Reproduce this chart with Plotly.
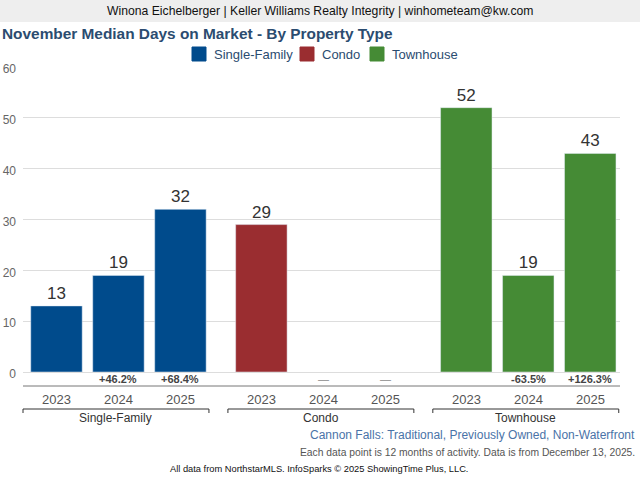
import plotly.graph_objects as go

# ---- data ----
groups = ["Single-Family", "Condo", "Townhouse"]
years = ["2023", "2024", "2025"]
sf_values = [13, 19, 32]
condo_values = [29, None, None]
town_values = [52, 19, 43]
sf_change = ["", "+46.2%", "+68.4%"]
condo_change = ["", "—", "—"]
town_change = ["", "-63.5%", "+126.3%"]

series_values = [sf_values, condo_values, town_values]
series_change = [sf_change, condo_change, town_change]
colors = ["#004b8c", "#9a2d30", "#458b35"]

# ---- layout geometry ----
W, H = 640, 480
ML, MR, MT, MB = 23, 20, 67, 108
PW = W - ML - MR
PH = H - MT - MB
GROUP_STEP = 3.306
BAR_SHIFT = 0.04
X0, X1 = -0.5, 2 * GROUP_STEP + 2.52
FONT = "Liberation Sans, Arial, sans-serif"


def px_to_py(py):
    return (H - MB - py) / PH


def px_to_px(px):
    return (px - ML) / PW


def dx_to_px(x):
    return (x - X0) / (X1 - X0)


fig = go.Figure()
for g, name in enumerate(groups):
    xs = [g * GROUP_STEP + i + BAR_SHIFT for i in range(len(years))]
    vals = series_values[g]
    fig.add_trace(go.Bar(
        x=xs, y=vals, name=name, marker_color=colors[g], width=0.83,
        text=[("" if v is None else str(v)) for v in vals],
        textposition="outside", cliponaxis=False,
        textfont=dict(size=17, color="#333333", family=FONT),
        hoverinfo="skip",
    ))

annotations = []
shapes = []

# header band
shapes.append(dict(type="rect", xref="paper", yref="paper",
                   x0=px_to_px(0), x1=px_to_px(W),
                   y0=px_to_py(22), y1=px_to_py(0),
                   fillcolor="#eeeeee", line_width=0, layer="below"))
annotations.append(dict(xref="paper", yref="paper", x=px_to_px(320), y=px_to_py(11),
                        text="Winona Eichelberger | Keller Williams Realty Integrity | winhometeam@kw.com",
                        showarrow=False, xanchor="center", yanchor="middle",
                        font=dict(size=12.2, color="#111111", family=FONT)))

# manual legend (swatch + label)
legend_x = [192, 300, 370]
for g, name in enumerate(groups):
    x0 = legend_x[g]
    shapes.append(dict(type="rect", xref="paper", yref="paper",
                       x0=px_to_px(x0), x1=px_to_px(x0 + 14),
                       y0=px_to_py(61), y1=px_to_py(47),
                       fillcolor=colors[g], line=dict(color=colors[g], width=1)))
    annotations.append(dict(xref="paper", yref="paper", x=px_to_px(x0 + 20), y=px_to_py(54),
                            text=name, showarrow=False, xanchor="left", yanchor="middle",
                            font=dict(size=13, color="#2b4c70", family=FONT)))

# separator line below change labels
shapes.append(dict(type="line", xref="paper", yref="paper", x0=0, x1=1,
                   y0=px_to_py(386), y1=px_to_py(386),
                   line=dict(color="#777777", width=1)))

for g, name in enumerate(groups):
    for i, yr in enumerate(years):
        xc = g * GROUP_STEP + i + BAR_SHIFT
        lab = series_change[g][i]
        annotations.append(dict(xref="paper", yref="paper", x=dx_to_px(xc), y=px_to_py(379),
                                text=lab if lab in ("", "—") else f"<b>{lab}</b>", showarrow=False,
                                xanchor="center", yanchor="middle",
                                font=dict(size=11, color="#888888" if lab == "—" else "#444444", family=FONT)))
        annotations.append(dict(xref="paper", yref="paper", x=dx_to_px(xc), y=px_to_py(399),
                                text=yr, showarrow=False, xanchor="center", yanchor="middle",
                                font=dict(size=13, color="#555555", family=FONT)))
    xl = dx_to_px(g * GROUP_STEP - 0.5)
    xr = dx_to_px(g * GROUP_STEP + 2.5)
    yb = px_to_py(409)
    yt = px_to_py(413)
    shapes.append(dict(type="path", xref="paper", yref="paper",
                       path=f"M {xl} {yt} L {xl} {yb} L {xr} {yb} L {xr} {yt}",
                       line=dict(color="#333333", width=1)))
    annotations.append(dict(xref="paper", yref="paper", x=(xl + xr) / 2, y=px_to_py(418),
                            text=name, showarrow=False, xanchor="center", yanchor="middle",
                            font=dict(size=12, color="#333333", family=FONT)))

# footer texts
annotations.append(dict(xref="paper", yref="paper", x=px_to_px(637), y=px_to_py(435),
                        text="Cannon Falls: Traditional, Previously Owned, Non-Waterfront",
                        showarrow=False, xanchor="right", yanchor="middle",
                        font=dict(size=12, color="#4a73a8", family=FONT)))
annotations.append(dict(xref="paper", yref="paper", x=px_to_px(637), y=px_to_py(452),
                        text="Each data point is 12 months of activity. Data is from December 13, 2025.",
                        showarrow=False, xanchor="right", yanchor="middle",
                        font=dict(size=10.3, color="#555555", family=FONT)))
annotations.append(dict(xref="paper", yref="paper", x=px_to_px(319), y=px_to_py(469),
                        text="All data from NorthstarMLS. InfoSparks © 2025 ShowingTime Plus, LLC.",
                        showarrow=False, xanchor="center", yanchor="middle",
                        font=dict(size=9.3, color="#111111", family=FONT)))

fig.update_layout(
    width=W, height=H,
    margin=dict(l=ML, r=MR, t=MT, b=MB, autoexpand=False),
    paper_bgcolor="white", plot_bgcolor="white",
    font=dict(family=FONT),
    title=dict(text="<b>November Median Days on Market - By Property Type</b>",
               x=2 / W, xanchor="left", xref="container",
               y=1 - 34 / H, yanchor="middle", yref="container",
               font=dict(size=15.4, color="#2b4c70", family=FONT)),
    showlegend=False,
    xaxis=dict(range=[X0, X1], showticklabels=False, showgrid=False, zeroline=False,
               showline=False, ticks="", fixedrange=True),
    yaxis=dict(range=[0, 60], dtick=10, gridcolor="#dddddd", gridwidth=1,
               zeroline=True, zerolinecolor="#dddddd", zerolinewidth=1,
               showline=False, ticks="", ticklabelstandoff=6, ticklabelshift=2,
               fixedrange=True,
               tickfont=dict(size=12, color="#666666", family=FONT)),
    annotations=annotations, shapes=shapes,
    bargap=0,
)

fig.write_html("out.html", config={"displayModeBar": False, "staticPlot": True},
               post_script="document.body.style.margin='0';document.body.style.overflow='hidden';")
